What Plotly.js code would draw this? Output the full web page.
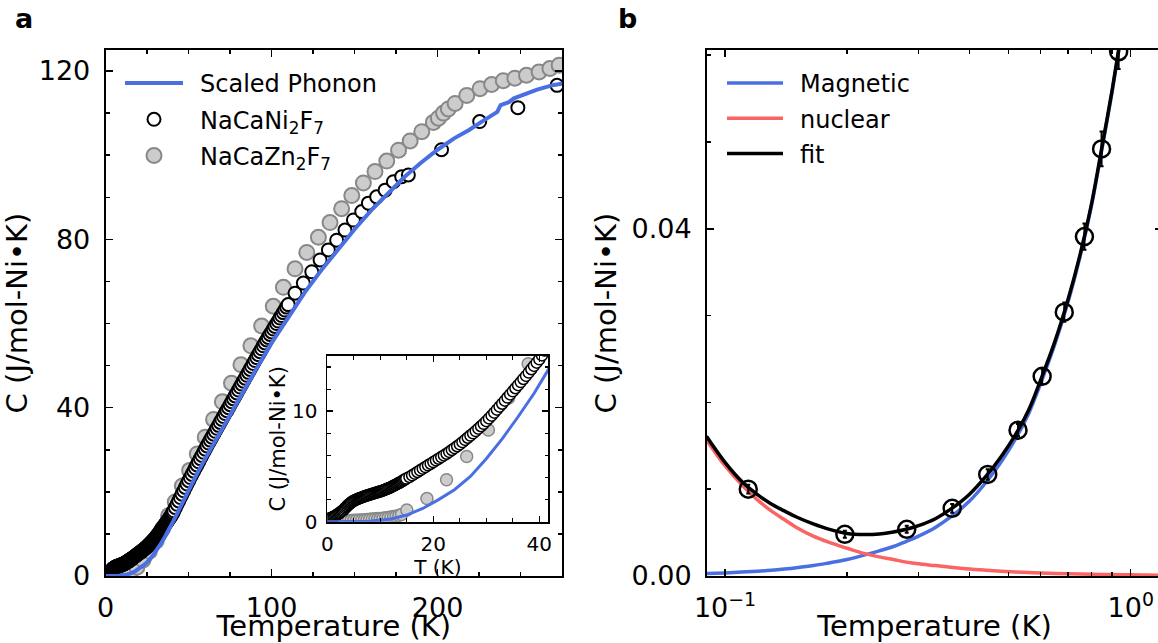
<!DOCTYPE html>
<html><head><meta charset="utf-8">
<script src="https://cdn.plot.ly/plotly-3.0.1.min.js"></script>
<style>html,body{margin:0;padding:0;overflow:hidden;background:#fff}#chart{width:1170px;height:643px}</style>
</head><body><div id="chart"></div>
<script>
// ---------- Panel a : NaCaNi2F7 ----------
var niT = [0.1,0.3,0.5,0.7,0.9,1.1,1.3,1.5,1.7,1.9,2.1,2.3,2.5,2.7,2.9,3.1,3.3,3.5,3.7,3.9,4.1,4.3,4.5,4.7,4.9,5.1,5.3,5.5,5.7,5.9,6.1,6.3,6.5,6.7,6.9,7.1,7.3,7.5,7.7,7.9,
  8.1,8.3,8.5,8.7,8.9,9.1,9.3,9.5,9.7,9.9,10.1,10.3,10.5,10.7,10.9,11.1,11.3,11.5,11.7,11.9,12.1,12.3,12.5,12.7,12.9,13.1,13.3,13.5,13.7,13.9,14.1,14.3,14.5,14.7,14.9,
  15.5,16,16.5,17,17.5,18,18.5,19,19.5,20,20.5,21,21.5,22,22.5,23,23.5,24,24.5,25,25.5,26,26.5,27,27.5,28,28.5,29,29.5,30,30.5,31,31.5,32,32.5,33,33.5,34,34.5,35,35.5,36,36.5,37,37.5,38,38.5,39,39.5,40,40.5,
  41,42,43,44,45,46,47,48,49,50,51,52,53,54,55,56,57,58,59,60,61,62,63,64,65,66,67,68,69,70,71,72,73,74,75,76,77,78,79,80,81,82,83,84,85,86,87,88,89,90,91,92,93,94,95,96,97,98,99,100,101,102,103,104,105,106,107,108,109,110,
  114.1,119.1,124.2,129.2,134.2,139.2,144.2,149.3,154.3,158.3,163.3,168.4,173.4,178.4,182.4,202.4,225.4,248.4,272];
var niC = [0.25,0.27,0.3,0.33,0.37,0.42,0.47,0.53,0.59,0.65,0.72,0.79,0.86,0.93,1.01,1.1,1.2,1.3,1.4,1.5,1.58,1.66,1.74,1.81,1.87,1.92,1.97,2.01,2.05,2.09,2.13,2.17,2.2,2.24,2.27,2.31,2.34,2.37,2.4,2.43,
  2.46,2.49,2.52,2.55,2.58,2.61,2.64,2.67,2.7,2.73,2.76,2.79,2.82,2.86,2.9,2.94,2.98,3.02,3.06,3.1,3.15,3.2,3.25,3.3,3.35,3.4,3.45,3.5,3.55,3.6,3.66,3.72,3.78,3.84,3.9,
  4.05,4.2,4.35,4.5,4.65,4.8,4.95,5.1,5.25,5.4,5.55,5.7,5.85,6.0,6.15,6.32,6.49,6.66,6.83,7.0,7.2,7.4,7.6,7.8,8.0,8.2,8.42,8.64,8.86,9.1,9.35,9.6,9.87,10.14,10.41,10.68,10.96,11.24,11.52,11.8,12.08,12.36,12.64,12.92,13.2,13.5,13.8,14.1,14.4,14.7,15.05,
  15.5,16.25,17.05,17.85,18.65,19.45,20.25,21.05,21.85,22.65,23.4,24.15,24.9,25.65,26.4,27.15,27.9,28.65,29.4,30.15,30.9,31.6,32.3,33.0,33.7,34.4,35.1,35.8,36.5,37.2,37.9,38.6,39.3,40.0,40.7,41.4,42.1,42.8,43.5,44.2,44.9,45.6,46.3,47.0,47.7,48.4,49.1,49.8,50.5,51.2,51.9,52.6,53.3,54.0,54.7,55.4,56.1,56.7,57.4,58.0,58.7,59.3,60.0,60.6,61.3,61.9,62.6,63.2,63.9,64.5,
  67.2,69.6,72.3,75.1,77.5,79.8,82.2,84.6,86.6,88.6,90.1,91.7,93.7,94.9,95.3,101.3,108.0,111.3,116.6];
// ---------- Panel a : NaCaZn2F7 ----------
var znT = [2,2.5,3,3.5,4,4.5,5,5.5,6,6.5,7,7.5,8,8.5,9,9.5,10,10.5,11,11.5,12,12.5,13,13.5,14,15.0,18.8,22.5,26.3,30.4,34.2,37.9,41.9,46.2,50.6,55.2,60.0,65.0,70.3,75.8,81.5,87.5,94.0,101.0,107.1,114.1,121.2,128.2,135.2,142.2,148.3,155.3,162.3,169.4,176.5,183.5,190.5,197.5,200.5,203.6,206.5,210.6,217.6,225.6,232.6,239.6,246.6,253.6,261.2,267.7,273.3];
var znC = [0.05,0.06,0.08,0.09,0.1,0.11,0.12,0.13,0.15,0.16,0.18,0.2,0.22,0.24,0.26,0.28,0.3,0.32,0.35,0.38,0.42,0.46,0.5,0.57,0.65,1.06,2.1,3.8,5.9,8.3,11.2,14.3,17.6,21.4,25.1,29.0,33.0,37.2,41.4,45.8,50.2,54.7,59.4,64.1,68.6,73.0,76.9,80.5,84.0,87.3,90.4,93.4,96.1,98.6,101.2,103.4,105.6,107.8,108.8,110.0,111.0,112.3,114.2,115.8,116.8,117.7,118.3,119.0,119.8,120.6,121.4];
// ---------- Panel a : Scaled phonon ----------
var phT = [0,4,8,12,15,18,21,24,27,30,33,36,39,42,46,50,55,60,65,70,80,90,100,110,120,130,140,150,160,170,180,190,200,210,216,219,226,233,236,238,243,246,250,260,270,275];
var phC = [0,0,0.05,0.25,0.6,1.2,2.0,2.9,4.1,5.7,7.5,9.5,11.6,14.0,17.2,20.5,24.3,27.9,31.4,34.9,41.8,48.7,55.4,61.6,67.4,72.7,77.7,82.4,86.9,91.0,94.8,98.2,101.3,104.0,105.3,106.0,107.8,109.6,110.3,111.9,112.6,113.5,114.1,115.6,116.7,117.0];

// ---------- Panel b ----------
var bT   = [0.1141,0.1974,0.2805,0.363,0.4442,0.5275,0.6049,0.6858,0.769,0.8475,0.9337];
var bC   = [0.0100,0.00480,0.00538,0.0078,0.0117,0.0168,0.0230,0.0304,0.0391,0.0492,0.0604];
var bErr = [0.0005,0.0004,0.0004,0.0005,0.0006,0.0007,0.0009,0.0011,0.0015,0.0020,0.0020];
var curveT    = [0.09,0.10,0.11,0.12,0.13,0.14,0.15,0.165,0.18,0.2,0.22,0.24,0.26,0.28,0.3,0.33,0.36,0.4,0.44,0.48,0.52,0.56,0.6,0.65,0.7,0.75,0.8,0.85,0.9,0.95,1.0,1.1,1.2];
var magneticC = [0.00028,0.00036,0.00045,0.00055,0.00066,0.0008,0.00095,0.0012,0.0015,0.0019,0.0024,0.0029,0.0034,0.0040,0.0046,0.0056,0.0068,0.0086,0.0108,0.0132,0.0158,0.0187,0.0222,0.0267,0.0315,0.0368,0.0426,0.0493,0.0558,0.0626,0.0698,0.085,0.10];
var nuclearC  = [0.0157,0.0127,0.0105,0.0088,0.0075,0.0065,0.0056,0.0046,0.0039,0.0032,0.0026,0.0022,0.0019,0.0016,0.0014,0.0012,0.0010,0.0008,0.00066,0.00055,0.00047,0.0004,0.00035,0.0003,0.00026,0.00023,0.0002,0.00018,0.00016,0.00014,0.00013,0.00011,0.00009];
var fitC      = [0.0161,0.0131,0.0109,0.0094,0.0083,0.0075,0.0068,0.0060,0.0054,0.0049,0.00478,0.00485,0.00507,0.00538,0.0058,0.0066,0.0077,0.0094,0.0115,0.0138,0.0163,0.0191,0.0226,0.0270,0.0318,0.0370,0.0428,0.0495,0.0560,0.0628,0.0700,0.086,0.101];

var W = 1170, H = 643;
function px(x){return x/W;} function py(y){return 1-y/H;}
var FONT = 'DejaVu Sans, sans-serif';
var BLUE = '#4a6fe3', RED = '#fa6464';
var SP = '\u2002';

var traces = [
  {x: znT, y: znC, xaxis:'x', yaxis:'y', mode:'markers', name:SP+'NaCaZn<sub>2</sub>F<sub>7</sub>', legendrank:3, legendgroup:'g3',
   marker:{size:15, color:'#cccccc', line:{color:'#888888', width:2}}},
  {x: niT, y: niC, xaxis:'x', yaxis:'y', mode:'markers', name:SP+'NaCaNi<sub>2</sub>F<sub>7</sub>', legendrank:2, legendgroup:'g2',
   marker:{size:13, color:'#ffffff', line:{color:'#000000', width:2}}},
  {x: phT, y: phC, xaxis:'x', yaxis:'y', mode:'lines', name:SP+'Scaled Phonon', legendrank:1, legendgroup:'g1',
   line:{color:BLUE, width:4}},
  {x: znT, y: znC, xaxis:'x2', yaxis:'y2', mode:'markers', showlegend:false,
   marker:{size:12, color:'#cccccc', line:{color:'#888888', width:1.5}}},
  {x: niT, y: niC, xaxis:'x2', yaxis:'y2', mode:'markers', showlegend:false,
   marker:{size:11, color:'#ffffff', line:{color:'#000000', width:1.5}}},
  {x: phT, y: phC, xaxis:'x2', yaxis:'y2', mode:'lines', showlegend:false,
   line:{color:BLUE, width:3}},
  {x: curveT, y: magneticC, xaxis:'x3', yaxis:'y3', mode:'lines', name:SP+'Magnetic', legend:'legend2', legendgroup:'h1',
   line:{color:BLUE, width:3.5, shape:'spline'}},
  {x: curveT, y: nuclearC, xaxis:'x3', yaxis:'y3', mode:'lines', name:SP+'nuclear', legend:'legend2', legendgroup:'h2',
   line:{color:RED, width:3.5, shape:'spline'}},
  {x: curveT, y: fitC, xaxis:'x3', yaxis:'y3', mode:'lines', name:SP+'fit', legend:'legend2', legendgroup:'h3',
   line:{color:'#000000', width:3.5, shape:'spline'}},
  {x: bT, y: bC, xaxis:'x3', yaxis:'y3', mode:'markers', showlegend:false,
   error_y:{type:'data', array:bErr, visible:true, color:'#000000', thickness:2, width:2},
   marker:{symbol:'circle-open', size:17, color:'#000000', line:{width:2.5}}}
];

function axBase(extra){
  var o = {showgrid:false, zeroline:false, showline:true, linecolor:'#000', linewidth:2,
    ticks:'inside', mirror:'ticks', tickcolor:'#000', tickwidth:1.5, ticklen:7,
    tickfont:{family:FONT, size:27, color:'#000'}};
  for (var k in extra) o[k]=extra[k];
  return o;
}

var layout = {
  width: W, height: H, margin:{l:0,r:0,t:0,b:0}, paper_bgcolor:'#fff', plot_bgcolor:'#fff',
  font:{family:FONT, color:'#000'},
  xaxis: axBase({domain:[px(105.7), px(562)], anchor:'y', range:[0,275], tickmode:'array', tickvals:[0,100,200],
    minor:{tickmode:'linear', tick0:0, dtick:25, ticks:'inside', ticklen:4, tickcolor:'#000', tickwidth:1.5},
    ticklabelstandoff:7,
    title:{text:'Temperature (K)', font:{family:FONT, size:29}, standoff:4}}),
  yaxis: axBase({domain:[py(576), py(50)], anchor:'x', range:[0,125], tickmode:'array', tickvals:[0,40,80,120],
    minor:{tickmode:'linear', tick0:0, dtick:10, ticks:'inside', ticklen:4, tickcolor:'#000', tickwidth:1.5},
    ticklabelstandoff:8,
    title:{text:'C (J/mol-Ni•K)', font:{family:FONT, size:29}, standoff:6}}),
  xaxis2: axBase({domain:[px(327.3), px(548.3)], anchor:'y2', range:[0,41.7], tickmode:'array', tickvals:[0,20,40],
    ticklen:6, linewidth:1.8, tickfont:{family:FONT, size:20, color:'#000'},
    minor:{tickmode:'linear', tick0:0, dtick:5, ticks:'inside', ticklen:3.5, tickcolor:'#000', tickwidth:1.2},
    ticklabelstandoff:3,
    title:{text:'T (K)', font:{family:FONT, size:20}, standoff:0}}),
  yaxis2: axBase({domain:[py(521.7), py(356)], anchor:'x2', range:[0,15], tickmode:'array', tickvals:[0,10],
    ticklen:6, linewidth:1.8, tickfont:{family:FONT, size:20, color:'#000'},
    minor:{tickmode:'linear', tick0:0, dtick:2, ticks:'inside', ticklen:3.5, tickcolor:'#000', tickwidth:1.2},
    ticklabelstandoff:4,
    title:{text:'C (J/mol-Ni•K)', font:{family:FONT, size:21}, standoff:1}}),
  xaxis3: axBase({domain:[px(707), px(1162)], anchor:'y3', type:'log', range:[-1.0444, 0.0771],
    tickmode:'array', tickvals:[0.1,1], ticktext:['10<sup>\u22121</sup>','10<sup>0</sup>'],
    minor:{tickmode:'array', tickvals:[0.2,0.3,0.4,0.5,0.6,0.7,0.8,0.9], ticks:'inside', ticklen:4, tickcolor:'#000', tickwidth:1.5},
    ticklabelstandoff:7,
    title:{text:'Temperature (K)', font:{family:FONT, size:29}, standoff:4}}),
  yaxis3: axBase({domain:[py(576), py(50)], anchor:'x3', range:[0,0.0606], tickmode:'array', tickvals:[0,0.04], ticktext:['0.00','0.04'],
    minor:{tickmode:'linear', tick0:0, dtick:0.01, ticks:'inside', ticklen:4, tickcolor:'#000', tickwidth:1.5},
    ticklabelstandoff:8,
    title:{text:'C (J/mol-Ni•K)', font:{family:FONT, size:29}, standoff:6}}),
  legend: {x:px(120), y:py(61), xanchor:'left', yanchor:'top', bgcolor:'rgba(0,0,0,0)', borderwidth:0,
    font:{family:FONT, size:24, color:'#000'}, itemwidth:58, tracegroupgap:2, traceorder:'grouped'},
  legend2: {x:px(722), y:py(61), xanchor:'left', yanchor:'top', bgcolor:'rgba(0,0,0,0)', borderwidth:0,
    font:{family:FONT, size:24, color:'#000'}, itemwidth:56, tracegroupgap:1, traceorder:'grouped'},
  showlegend:true,
  annotations: [
    {text:'<b>a</b>', x:px(24), y:py(18), xref:'paper', yref:'paper', showarrow:false, xanchor:'center', yanchor:'middle', font:{family:FONT, size:27, color:'#000'}},
    {text:'<b>b</b>', x:px(627), y:py(18), xref:'paper', yref:'paper', showarrow:false, xanchor:'center', yanchor:'middle', font:{family:FONT, size:27, color:'#000'}}
  ]
};

Plotly.newPlot('chart', traces, layout, {staticPlot:true, displayModeBar:false});
</script></body></html>
